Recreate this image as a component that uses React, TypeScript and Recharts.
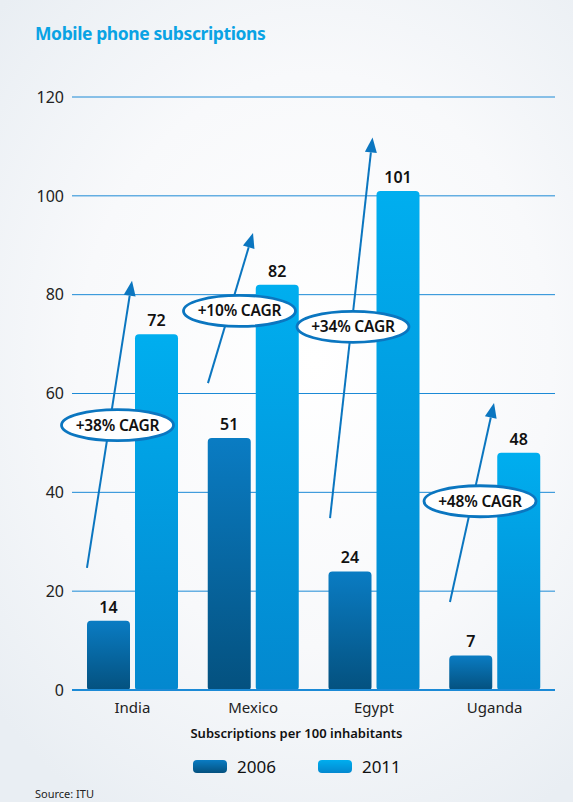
import React from 'react';
import { BarChart, Bar, XAxis, YAxis, CartesianGrid, LabelList, ReferenceLine, ReferenceDot } from 'recharts';

const countries = ['India', 'Mexico', 'Egypt', 'Uganda'];
const subs2006 = [14, 51, 24, 7];
const subs2011 = [72, 82, 101, 48];
const yTicks = [0, 20, 40, 60, 80, 100, 120];

// CAGR annotations, in data units (x: 0..4 across the categories, y: subscriptions)
const cagrLabels = ['+38% CAGR', '+10% CAGR', '+34% CAGR', '+48% CAGR'];
const cagrLabelX = [0.377, 1.387, 2.327, 3.379];
const cagrLabelY = [53.6, 76.7, 73.5, 38.2];
const arrowFrom = [
  { x: 0.124, y: 24.7 },
  { x: 1.126, y: 62.1 },
  { x: 2.137, y: 34.8 },
  { x: 3.13, y: 17.8 },
];
const arrowTo = [
  { x: 0.497, y: 82.8 },
  { x: 1.499, y: 92.5 },
  { x: 2.489, y: 111.8 },
  { x: 3.495, y: 58.1 },
];

const data = countries.map((c, i) => ({ country: c, y2006: subs2006[i], y2011: subs2011[i] }));

const FONT = '"Noto Sans", "Open Sans", sans-serif';
const LINE_BLUE = '#1c8ad6';
const ARROW_BLUE = '#0b76c0';

const Arrow = (props: any) => {
  const { x1, y1, x2, y2 } = props;
  const ang = Math.atan2(y2 - y1, x2 - x1);
  const len = 15;
  const half = 6;
  const bx = x2 - len * Math.cos(ang);
  const by = y2 - len * Math.sin(ang);
  const px = -Math.sin(ang) * half;
  const py = Math.cos(ang) * half;
  return (
    <g>
      <line x1={x1} y1={y1} x2={bx} y2={by} stroke={ARROW_BLUE} strokeWidth={2} />
      <polygon points={`${x2},${y2} ${bx + px},${by + py} ${bx - px},${by - py}`} fill={ARROW_BLUE} />
    </g>
  );
};

const makeBadge = (text: string) => (props: any) => {
  const { cx, cy } = props;
  return (
    <g>
      <ellipse cx={cx} cy={cy} rx={56} ry={15.5} fill="#ffffff" stroke={ARROW_BLUE} strokeWidth={2.8} />
      <text x={cx} y={cy} dy={5.5} textAnchor="middle" fontFamily={FONT} fontSize={15.5} fontWeight={600} fill="#111" letterSpacing={-0.2}>
        {text}
      </text>
    </g>
  );
};

export default function App() {
  return (
    <div
      style={{
        position: 'absolute',
        left: 0,
        top: 0,
        width: 573,
        height: 802,
        overflow: 'hidden',
        fontFamily: FONT,
        background: 'radial-gradient(ellipse 75% 65% at 55% 45%, #ffffff 0%, #f8f9fb 55%, #e9eef3 100%)',
      }}
    >
      <div style={{ position: 'absolute', left: 35, top: 21, fontSize: 17.5, fontWeight: 700, color: '#0aa3e4', letterSpacing: -0.4 }}>
        Mobile phone subscriptions
      </div>

      <BarChart
        width={573}
        height={802}
        data={data}
        margin={{ top: 97, right: 18, left: 0, bottom: 0 }}
        barSize={43}
        barGap={5}
        style={{ position: 'absolute', left: 0, top: 0 }}
      >
        <defs>
          <linearGradient id="g2006" x1="0" y1="0" x2="0" y2="1">
            <stop offset="0%" stopColor="#0a7cc3" />
            <stop offset="100%" stopColor="#04517f" />
          </linearGradient>
          <linearGradient id="g2011" x1="0" y1="0" x2="0" y2="1">
            <stop offset="0%" stopColor="#00aeef" />
            <stop offset="100%" stopColor="#0388cf" />
          </linearGradient>
        </defs>
        <CartesianGrid vertical={false} stroke={LINE_BLUE} strokeWidth={1} />
        <XAxis
          dataKey="country"
          height={112}
          axisLine={{ stroke: LINE_BLUE, strokeWidth: 2 }}
          tickLine={false}
          tickMargin={6}
          tick={{ fontSize: 15, fill: '#222', fontFamily: FONT }}
        />
        {/* hidden numeric axis spanning the four category slots, used to place the annotations */}
        <XAxis xAxisId="n" dataKey="slot" type="number" domain={[0, 4]} allowDataOverflow hide />
        <YAxis
          width={72}
          domain={[0, 120]}
          ticks={yTicks}
          axisLine={false}
          tickLine={false}
          tick={{ fontSize: 16, fill: '#222', fontFamily: FONT }}
        />
        <Bar dataKey="y2006" fill="url(#g2006)" radius={[4, 4, 3, 3]} isAnimationActive={false}>
          <LabelList dataKey="y2006" position="top" offset={8} style={{ fontSize: 16, fontWeight: 600, fill: '#111', fontFamily: FONT }} />
        </Bar>
        <Bar dataKey="y2011" fill="url(#g2011)" radius={[4, 4, 3, 3]} isAnimationActive={false}>
          <LabelList dataKey="y2011" position="top" offset={8} style={{ fontSize: 16, fontWeight: 600, fill: '#111', fontFamily: FONT }} />
        </Bar>
        {countries.map((c, i) => (
          <ReferenceLine
            key={'a' + c}
            xAxisId="n"
            segment={[arrowFrom[i], arrowTo[i]]}
            ifOverflow="visible"
            shape={Arrow}
          />
        ))}
        {countries.map((c, i) => (
          <ReferenceDot
            key={'b' + c}
            xAxisId="n"
            x={cagrLabelX[i]}
            y={cagrLabelY[i]}
            ifOverflow="visible"
            shape={makeBadge(cagrLabels[i])}
          />
        ))}
      </BarChart>

      <div style={{ position: 'absolute', left: 0, width: 593, top: 724, textAlign: 'center', fontSize: 13, fontWeight: 600, color: '#111' }}>
        Subscriptions per 100 inhabitants
      </div>

      <div style={{ position: 'absolute', top: 755, left: 193, display: 'flex', alignItems: 'center' }}>
        <div style={{ width: 34, height: 13, borderRadius: 4, background: 'linear-gradient(#0a7cc3, #04517f)' }} />
        <span style={{ marginLeft: 10, fontSize: 17, color: '#111' }}>2006</span>
        <div style={{ width: 34, height: 13, borderRadius: 4, background: 'linear-gradient(#00aeef, #0388cf)', marginLeft: 42 }} />
        <span style={{ marginLeft: 10, fontSize: 17, color: '#111' }}>2011</span>
      </div>

      <div style={{ position: 'absolute', left: 35, top: 786, fontSize: 11, color: '#222' }}>Source: ITU</div>
    </div>
  );
}
